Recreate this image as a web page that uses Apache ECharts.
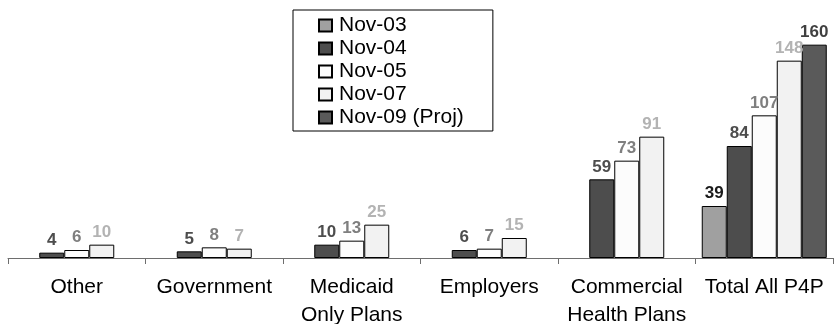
<!DOCTYPE html>
<html>
<head>
<meta charset="utf-8">
<script src="https://cdn.jsdelivr.net/npm/echarts@6/dist/echarts.min.js"></script>
<style>
  html, body { margin: 0; padding: 0; background: #fff; }
  #chart { width: 835px; height: 324px; }
</style>
</head>
<body>
<div id="chart"></div>
<script>
const categories = ['Other', 'Government', 'Medicaid\nOnly Plans', 'Employers', 'Commercial\nHealth Plans', 'Total All P4P'];
const seriesNames = ['Nov-03', 'Nov-04', 'Nov-05', 'Nov-07', 'Nov-09 (Proj)'];
const nov03 = ['-', '-', '-', '-', '-', 39];
const nov04 = [4, 5, 10, 6, 59, 84];
const nov05 = [6, 8, 13, 7, 73, 107];
const nov07 = [10, 7, 25, 15, 91, 148];
const nov09 = ['-', '-', '-', '-', '-', 160];

const fills = ['#a0a0a0', '#4d4d4d', '#fcfcfc', '#f2f2f2', '#5a5a5a'];
const labelColors = ['#1a1a1a', '#4d4d4d', '#7f7f7f', '#b3b3b3', '#404040'];
const values = [nov03, nov04, nov05, nov07, nov09];

const font = '"Liberation Sans", Arial, sans-serif';

var myChart = echarts.init(document.getElementById('chart'));

const series = values.map((data, i) => ({
    name: seriesNames[i],
    type: 'bar',
    data: data,
    barWidth: 25,
    barGap: '0%',
    itemStyle: {
        color: fills[i],
        borderColor: '#000',
        borderWidth: 1
    },
    label: {
        show: true,
        position: 'top',
        distance: 4,
        color: labelColors[i],
        fontWeight: 'bold',
        fontSize: 17,
        fontFamily: font
    }
}));

const option = {
    animation: false,
    grid: {
        left: 8,
        right: 2,
        top: 18,
        bottom: 66,
        containLabel: false,
        outerBoundsMode: 'none'
    },
    legend: {
        orient: 'vertical',
        left: 293,
        top: 10,
        padding: [5, 29, 3, 25],
        itemGap: 2,
        itemWidth: 13,
        itemHeight: 12,
        icon: 'rect',
        borderColor: '#000',
        borderWidth: 1,
        textStyle: {
            fontSize: 21,
            lineHeight: 20,
            color: '#000',
            fontFamily: font,
            padding: [0, 0, 0, 2]
        },
        data: seriesNames
    },
    xAxis: {
        type: 'category',
        data: categories,
        axisLine: { lineStyle: { color: '#6e6e6e', width: 1 } },
        axisTick: { show: true, length: 6, lineStyle: { color: '#6e6e6e' } },
        axisLabel: {
            interval: 0,
            margin: 15,
            fontSize: 21,
            lineHeight: 28,
            color: '#000',
            fontFamily: font
        }
    },
    yAxis: {
        type: 'value',
        min: 0,
        max: 180,
        show: false,
        splitLine: { show: false }
    },
    series: series
};
myChart.setOption(option);
</script>
</body>
</html>
